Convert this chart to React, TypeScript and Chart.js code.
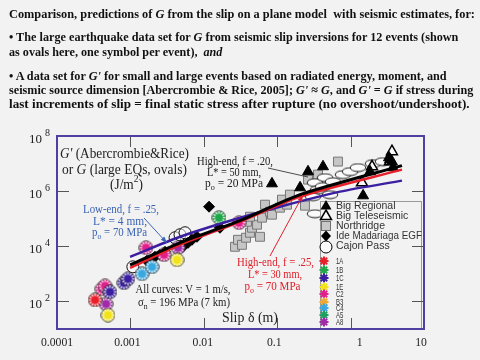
import React, { useEffect, useLayoutEffect, useRef } from 'react';
import { Chart, registerables } from 'chart.js';

Chart.register(...registerables);

type P = [number, number];

// ---------- axis ticks ----------
const xTickValues = [0.0001, 0.001, 0.01, 0.1, 1, 10];
const xTickLabels = ['0.0001', '0.001', '0.01', '0.1', '1', '10'];
const yTickValues = [1e8, 1e6, 1e4, 1e2];
const yTickExponents = ['8', '6', '4', '2'];

// ---------- model curves (slip δ in m, G in J/m2) ----------
const lowEndBlue: P[] = [[9.9e-4, 4150], [4.74e-3, 2.21e4], [0.0228, 8.46e4], [0.109, 2.73e5], [0.718, 9.6e5], [5.01, 2.41e6]];
const highEnd20Black: P[] = [[9.9e-4, 2120], [4.74e-3, 1.34e4], [0.0311, 8.46e4], [0.205, 7.46e5], [5.01, 8.46e6]];
const highEnd25Red: P[] = [[9.9e-4, 1650], [4.74e-3, 1.13e4], [0.0311, 7.78e4], [0.205, 6.31e5], [5.01, 6.05e6]];

// ---------- data sets ----------
const bigRegional: P[] = [[0.0849, 1.87e6], [0.205, 1.34e6], [0.263, 5.12e6], [0.421, 7.78e6], [1.48, 6.86e5], [1.84, 5.12e6], [3.44, 1.4e7], [3.66, 1.18e7], [3.78, 7.16e6], [3.33, 1.65e7]];
const bigTeleseismic: P[] = [[1.43, 2.04e6], [1.96, 7.78e6], [3.66, 2.73e7], [3.44, 1.18e7]];
const northridge: P[] = [[0.0266, 9.6e3], [0.0292, 1.72e4], [0.0331, 1.13e4], [0.0376, 2.04e4], [0.0426, 3.1e4], [0.0454, 4.71e4], [0.0531, 6.05e4], [0.0388, 7.78e4], [0.0426, 1.18e5], [0.0621, 1.09e5], [0.0583, 2.21e4], [0.0682, 3.23e5], [0.0798, 1.8e5], [0.0849, 1.4e5], [0.109, 2.51e5], [0.136, 3.23e5], [0.116, 4.91e5], [0.149, 7.46e5], [0.239, 2.97e5], [0.263, 2.62e6], [0.36, 3.98e6], [0.673, 1.18e7]];
const ideMadariaga: P[] = [[1.68e-3, 2970], [2.16e-3, 4150], [2.53e-3, 4910], [2.96e-3, 6310], [5.21e-3, 9600], [6.1e-3, 1.34e4], [6.9e-3, 1.72e4], [8.07e-3, 2.21e4], [0.0118, 2.73e5], [0.0166, 4.71e4]];
const cajonPass: P[] = [[1.08e-3, 1800], [4.06e-3, 2.04e4], [4.74e-3, 2.62e4], [5.55e-3, 3.1e4]];
const largeEqOvals: P[] = [[0.308, 6.31e5], [0.327, 2.04e6], [0.36, 1.13e6], [0.421, 1.46e6], [0.448, 3.1e6], [0.575, 2.21e6], [0.787, 3.98e6], [0.982, 5.12e6], [1.26, 7.16e6], [2.02, 1.0e7], [2.76, 1.18e7], [0.327, 1.52e5], [0.524, 7.46e5]];

const ev1A: P[] = [[3.3e-4, 113]];
const ev1B: P[] = [[0.0161, 1.09e5]];
const ev1C: P[] = [[5.27e-4, 221], [8.18e-4, 471], [9.27e-4, 658]];
const ev1E: P[] = [[4.95e-4, 32], [4.32e-3, 3230]];
const evC2: P[] = [[4.1e-4, 285], [4.51e-4, 366], [1.63e-3, 8810], [2.87e-3, 4910], [0.0302, 7.16e4]];
const evB3: P[] = [];
const evC4: P[] = [[1.44e-3, 1000], [1.97e-3, 1800]];
const evA5: P[] = [];
const evA8: P[] = [[4.66e-4, 81], [4.46e-3, 8810]];

const eventNames = ['1A', '1B', '1C', '1E', 'C2', 'B3', 'C4', 'A5', 'A8'];
const eventColors = ['#e8202a', '#1fa84a', '#3a1fa0', '#f2e21a', '#e0208c', '#f0a830', '#3aa8e0', '#20a060', '#a02aa8'];
const eventData = [ev1A, ev1B, ev1C, ev1E, evC2, evB3, evC4, evA5, evA8];

const legendNames = ['Big Regional', 'Big Teleseismic', 'Northridge', 'Ide Madariaga EGF', 'Cajon Pass'];

// ---------- heading ----------
const headingLines: { y: number; width: number; parts: [string, boolean][] }[] = [
  { y: 14, width: 466, parts: [['Comparison, predictions of ', false], ['G', true], [' from the slip on a plane model  with seismic estimates, for:', false]] },
  { y: 37, width: 449, parts: [['\u2022 The large earthquake data set for ', false], ['G', true], [' from seismic slip inversions for 12 events (shown', false]] },
  { y: 52, width: 213, parts: [['as ovals here, one symbol per event),  ', false], ['and', true]] },
  { y: 76, width: 438, parts: [['\u2022 A data set for ', false], ["G'", true], [' for small and large events based on radiated energy, moment, and', false]] },
  { y: 90, width: 464, parts: [['seismic source dimension [Abercrombie & Rice, 2005]; ', false], ["G'", true], [' \u2248 ', false], ['G', true], [', and ', false], ["G'", true], [' = ', false], ['G', true], [' if stress during', false]] },
  { y: 104, width: 461, parts: [['last increments of slip = final static stress after rupture (no overshoot/undershoot).', false]] },
];

const BG = '#f2f2f2';
const FRAME = '#4f3fa0';
const SERIF = '"Liberation Serif", "Times New Roman", serif';
const SANS = '"Liberation Sans", Arial, sans-serif';

type Seg = { t: string; it?: boolean; sub?: boolean; sup?: boolean };

function drawRich(ctx: CanvasRenderingContext2D, segs: Seg[], cx: number, cy: number, size: number, color: string, width?: number) {
  const fontFor = (s: Seg) => `${s.it ? 'italic ' : ''}${s.sub || s.sup ? Math.round(size * 0.7) : size}px ${SERIF}`;
  let total = 0;
  const ws = segs.map((s) => {
    ctx.font = fontFor(s);
    const w = ctx.measureText(s.t).width;
    total += w;
    return w;
  });
  const sx = width ? width / total : 1;
  ctx.save();
  ctx.translate(cx - (total * sx) / 2, cy);
  ctx.scale(sx, 1);
  ctx.fillStyle = color;
  ctx.textBaseline = 'middle';
  ctx.textAlign = 'left';
  let x = 0;
  segs.forEach((s, i) => {
    ctx.font = fontFor(s);
    const dy = s.sub ? size * 0.3 : s.sup ? -size * 0.38 : 0;
    ctx.fillText(s.t, x, dy);
    x += ws[i];
  });
  ctx.restore();
}

function arrow(ctx: CanvasRenderingContext2D, x1: number, y1: number, x2: number, y2: number, color: string) {
  ctx.save();
  ctx.strokeStyle = color;
  ctx.fillStyle = color;
  ctx.lineWidth = 1;
  ctx.beginPath();
  ctx.moveTo(x1, y1);
  ctx.lineTo(x2, y2);
  ctx.stroke();
  const a = Math.atan2(y2 - y1, x2 - x1);
  const h = 7;
  ctx.beginPath();
  ctx.moveTo(x2, y2);
  ctx.lineTo(x2 - h * Math.cos(a - 0.35), y2 - h * Math.sin(a - 0.35));
  ctx.lineTo(x2 - h * Math.cos(a + 0.35), y2 - h * Math.sin(a + 0.35));
  ctx.closePath();
  ctx.fill();
  ctx.restore();
}

function makeStarCircle(color: string) {
  const c = document.createElement('canvas');
  c.width = 15;
  c.height = 15;
  const g = c.getContext('2d')!;
  g.beginPath();
  g.arc(7.5, 7.5, 6.6, 0, Math.PI * 2);
  g.fillStyle = color;
  g.fill();
  g.strokeStyle = '#ffffff';
  g.lineWidth = 1.3;
  for (let i = 0; i < 12; i++) {
    const a = (i * Math.PI) / 6;
    g.beginPath();
    g.moveTo(7.5 + Math.cos(a) * 4.0, 7.5 + Math.sin(a) * 4.0);
    g.lineTo(7.5 + Math.cos(a) * 6.4, 7.5 + Math.sin(a) * 6.4);
    g.stroke();
  }
  g.beginPath();
  g.arc(7.5, 7.5, 6.8, 0, Math.PI * 2);
  g.strokeStyle = '#333';
  g.lineWidth = 0.8;
  g.stroke();
  return c;
}

function makeEllipse() {
  const c = document.createElement('canvas');
  c.width = 18;
  c.height = 10;
  const g = c.getContext('2d')!;
  g.beginPath();
  g.ellipse(9, 5, 7.8, 3.9, 0, 0, Math.PI * 2);
  g.fillStyle = '#fbfbfb';
  g.fill();
  g.strokeStyle = '#111';
  g.lineWidth = 0.9;
  g.stroke();
  return c;
}

function drawStar(ctx: CanvasRenderingContext2D, x: number, y: number, r: number, color: string) {
  ctx.save();
  ctx.strokeStyle = color;
  ctx.lineWidth = 2;
  for (let i = 0; i < 4; i++) {
    const a = (i * Math.PI) / 4;
    ctx.beginPath();
    ctx.moveTo(x - Math.cos(a) * r, y - Math.sin(a) * r);
    ctx.lineTo(x + Math.cos(a) * r, y + Math.sin(a) * r);
    ctx.stroke();
  }
  ctx.restore();
}

const decor = {
  id: 'decor',
  afterDatasetsDraw(chart: any) {
    const ctx: CanvasRenderingContext2D = chart.ctx;
    const a = chart.chartArea;
    const xs = chart.scales.x;
    const ys = chart.scales.y;
    ctx.save();

    // ---- annotations ----
    const dark = '#222';
    drawRich(ctx, [{ t: "G'", it: true }, { t: ' (Abercrombie&Rice)' }], 124.5, 154, 14, dark, 129);
    drawRich(ctx, [{ t: 'or ' }, { t: 'G', it: true }, { t: ' (large EQs, ovals)' }], 124.5, 170, 14, dark, 125);
    drawRich(ctx, [{ t: '(J/m' }, { t: '2', sup: true }, { t: ')' }], 126.5, 185, 14, dark, 33);

    drawRich(ctx, [{ t: 'High-end, f = .20,' }], 235, 162, 12.5, dark, 76);
    drawRich(ctx, [{ t: 'L* = 50 mm,' }], 234, 173, 12.5, dark, 54);
    drawRich(ctx, [{ t: 'p' }, { t: 'o', sub: true }, { t: ' = 20 MPa' }], 234, 184, 12.5, dark, 58);
    ctx.strokeStyle = dark;
    ctx.lineWidth = 0.8;
    ctx.beginPath();
    ctx.moveTo(268, 168);
    ctx.lineTo(308, 177);
    ctx.stroke();

    const blueTxt = '#3a64b4';
    drawRich(ctx, [{ t: 'Low-end, f = .25,' }], 121, 210, 12.5, blueTxt, 76);
    drawRich(ctx, [{ t: 'L* = 4 mm,' }], 120, 222, 12.5, blueTxt, 54);
    drawRich(ctx, [{ t: 'p' }, { t: 'o', sub: true }, { t: ' = 70 MPa' }], 119.5, 233, 12.5, blueTxt, 55);
    arrow(ctx, 144, 218, 167, 243, blueTxt);

    const redTxt = '#e0202a';
    drawRich(ctx, [{ t: 'High-end, f = .25,' }], 275.5, 263, 12.5, redTxt, 77);
    drawRich(ctx, [{ t: 'L* = 30 mm,' }], 275, 275, 12.5, redTxt, 54);
    drawRich(ctx, [{ t: 'p' }, { t: 'o', sub: true }, { t: ' = 70 MPa' }], 272.5, 287, 12.5, redTxt, 56);
    arrow(ctx, 270, 256, 303, 195, redTxt);

    drawRich(ctx, [{ t: 'All curves: V = 1 m/s,' }], 183, 290, 12.5, dark, 95);
    drawRich(ctx, [{ t: '\u03c3' }, { t: 'n', sub: true }, { t: ' = 196 MPa (7 km)' }], 184, 303, 12.5, dark, 92);
    drawRich(ctx, [{ t: 'Slip \u03b4 (m)' }], 250, 318, 14, dark, 56);

    // ---- legend ----
    const lx = 320, ly = 201, lr = 422;
    ctx.fillStyle = BG;
    ctx.fillRect(lx, ly, lr - lx, a.bottom - ly);
    ctx.strokeStyle = '#9a9a9a';
    ctx.lineWidth = 1;
    ctx.strokeRect(lx + 0.5, ly + 0.5, lr - lx - 1, a.bottom - ly);

    const mx = 326;
    const rows = [206, 216, 226, 236, 246];
    // Big Regional
    ctx.fillStyle = '#000';
    ctx.beginPath();
    ctx.moveTo(mx, rows[0] - 6); ctx.lineTo(mx + 5.5, rows[0] + 3.5); ctx.lineTo(mx - 5.5, rows[0] + 3.5); ctx.closePath(); ctx.fill();
    // Big Teleseismic
    ctx.fillStyle = '#fafafa'; ctx.strokeStyle = '#000'; ctx.lineWidth = 1.5;
    ctx.beginPath();
    ctx.moveTo(mx, rows[1] - 6); ctx.lineTo(mx + 5.5, rows[1] + 3.5); ctx.lineTo(mx - 5.5, rows[1] + 3.5); ctx.closePath(); ctx.fill(); ctx.stroke();
    // Northridge
    ctx.fillStyle = '#c8c8c8'; ctx.strokeStyle = '#707070'; ctx.lineWidth = 1;
    ctx.fillRect(mx - 4.5, rows[2] - 4.5, 9, 9); ctx.strokeRect(mx - 4.5, rows[2] - 4.5, 9, 9);
    // Ide
    ctx.fillStyle = '#000';
    ctx.beginPath();
    ctx.moveTo(mx, rows[3] - 5.5); ctx.lineTo(mx + 5, rows[3]); ctx.lineTo(mx, rows[3] + 5.5); ctx.lineTo(mx - 5, rows[3]); ctx.closePath(); ctx.fill();
    // Cajon
    ctx.strokeStyle = '#000'; ctx.lineWidth = 1; ctx.fillStyle = '#fafafa';
    ctx.beginPath(); ctx.arc(mx, rows[4] + 1, 6, 0, Math.PI * 2); ctx.fill(); ctx.stroke();

    ctx.fillStyle = '#333';
    ctx.textAlign = 'left';
    ctx.textBaseline = 'middle';
    ctx.font = `10.5px ${SANS}`;
    legendNames.forEach((n, i) => ctx.fillText(n, 336, rows[i], lr - 336));

    const starRows = [261, 270, 278, 287, 294, 302, 308, 315, 322];
    eventNames.forEach((n, i) => {
      drawStar(ctx, 324, starRows[i], 4.5, eventColors[i]);
      ctx.save();
      ctx.translate(336, starRows[i]);
      ctx.scale(0.75, 1.15);
      ctx.fillStyle = '#333';
      ctx.font = `8px ${SANS}`;
      ctx.textBaseline = 'middle';
      ctx.fillText(n, 0, 0);
      ctx.restore();
    });

    // ---- frame & ticks ----
    ctx.strokeStyle = '#555';
    ctx.lineWidth = 1;
    xTickValues.forEach((v) => {
      const px = Math.round(xs.getPixelForValue(v)) + 0.5;
      ctx.beginPath();
      ctx.moveTo(px, a.bottom); ctx.lineTo(px, a.bottom - 11);
      ctx.moveTo(px, a.top); ctx.lineTo(px, a.top + 11);
      ctx.stroke();
    });
    yTickValues.forEach((v) => {
      const py = Math.round(ys.getPixelForValue(v)) + 0.5;
      ctx.beginPath();
      ctx.moveTo(a.left, py); ctx.lineTo(a.left + 12, py);
      ctx.moveTo(a.right, py); ctx.lineTo(a.right - 12, py);
      ctx.stroke();
    });
    ctx.strokeStyle = FRAME;
    ctx.lineWidth = 2;
    ctx.strokeRect(a.left, a.top, a.right - a.left, a.bottom - a.top);

    // ---- tick labels ----
    const xOff = [0, -3, -1, -3, 9, -3];
    ctx.fillStyle = '#222';
    ctx.textBaseline = 'middle';
    xTickValues.forEach((v, i) => {
      const px = xs.getPixelForValue(v) + xOff[i];
      ctx.font = `13px ${SERIF}`;
      const w = ctx.measureText(xTickLabels[i]).width;
      ctx.save();
      ctx.translate(px, 343);
      ctx.scale(0.9, 1);
      ctx.textAlign = 'center';
      ctx.fillText(xTickLabels[i], 0, 0);
      ctx.restore();
      void w;
    });
    yTickValues.forEach((v, i) => {
      const py = ys.getPixelForValue(v);
      ctx.font = `13px ${SERIF}`;
      ctx.textAlign = 'right';
      ctx.fillText('10', a.left - 15, py + 3.5);
      ctx.font = `10px ${SERIF}`;
      ctx.textAlign = 'left';
      ctx.fillText(yTickExponents[i], a.left - 12, py - 3);
    });

    ctx.restore();
  },
};

const toXY = (arr: P[]) => arr.map(([x, y]) => ({ x, y }));

export default function App() {
  const canvasRef = useRef<HTMLCanvasElement>(null);
  const lineRefs = useRef<(HTMLDivElement | null)[]>([]);

  useLayoutEffect(() => {
    const fit = () => {
      lineRefs.current.forEach((el, i) => {
        if (!el) return;
        el.style.transform = 'none';
        const w = el.offsetWidth;
        if (w > 0) el.style.transform = `scaleX(${headingLines[i].width / w})`;
      });
    };
    fit();
    if ((document as any).fonts && (document as any).fonts.ready) (document as any).fonts.ready.then(fit);
  }, []);

  useEffect(() => {
    const canvas = canvasRef.current;
    if (!canvas) return;
    const ellipse = makeEllipse();
    const curve = (label: string, d: P[], color: string, width: number) => ({
      label, data: toXY(d), showLine: true, borderColor: color, backgroundColor: color,
      borderWidth: width, pointRadius: 0, tension: 0.25,
    });
    const datasets: any[] = [
      curve('High-end, f = .20', highEnd20Black, '#000000', 3),
      curve('High-end, f = .25', highEnd25Red, '#e8202a', 2.5),
      curve('Low-end, f = .25', lowEndBlue, '#3b1fa0', 2.5),
      ...eventNames.map((n, i) => ({
        label: n, data: toXY(eventData[i]), pointStyle: makeStarCircle(eventColors[i]), pointRadius: 6,
      })),
      { label: 'Ide Madariaga EGF', data: toXY(ideMadariaga), pointStyle: 'rectRot', pointRadius: 5.5, backgroundColor: '#000', borderColor: '#000', borderWidth: 1 },
      { label: 'Big Regional', data: toXY(bigRegional), pointStyle: 'triangle', pointRadius: 6.3, backgroundColor: '#000', borderColor: '#000', borderWidth: 1 },
      { label: 'Big Teleseismic', data: toXY(bigTeleseismic), pointStyle: 'triangle', pointRadius: 6.3, backgroundColor: '#fafafa', borderColor: '#000', borderWidth: 1.5 },
      { label: 'Large EQ ovals', data: toXY(largeEqOvals), pointStyle: ellipse, pointRadius: 6 },
      { label: 'Cajon Pass', data: toXY(cajonPass), pointStyle: 'circle', pointRadius: 6, backgroundColor: 'rgba(250,250,250,0.5)', borderColor: '#111', borderWidth: 1 },
      { label: 'Northridge', data: toXY(northridge), pointStyle: 'rect', pointRadius: 6.3, backgroundColor: '#c6c6c6', borderColor: '#777', borderWidth: 1 },
    ];
    const chart = new Chart(canvas, {
      type: 'scatter',
      data: { datasets },
      options: {
        animation: false,
        responsive: false,
        devicePixelRatio: 1,
        events: [],
        layout: { padding: { left: 57, top: 136, right: 56, bottom: 31 } },
        scales: {
          x: { type: 'logarithmic', min: 1e-4, max: 10, display: false },
          y: { type: 'logarithmic', min: 10, max: 1e8, display: false },
        },
        plugins: { legend: { display: false }, tooltip: { enabled: false }, title: { display: false } },
      } as any,
      plugins: [decor],
    });
    return () => chart.destroy();
  }, []);

  return (
    <div style={{ position: 'fixed', left: 0, top: 0, width: 480, height: 360, background: BG, overflow: 'hidden' }}>
      <canvas ref={canvasRef} width={480} height={360} style={{ position: 'absolute', left: 0, top: 0, width: 480, height: 360 }} />
      {headingLines.map((ln, i) => (
        <div
          key={i}
          ref={(el) => { lineRefs.current[i] = el; }}
          style={{
            position: 'absolute', left: 9, top: ln.y - 8, whiteSpace: 'pre', fontFamily: SERIF, fontWeight: 'bold',
            fontSize: 13, lineHeight: '16px', color: '#111', transformOrigin: '0 0',
          }}
        >
          {ln.parts.map(([t, it], j) => (it ? <i key={j}>{t}</i> : <span key={j}>{t}</span>))}
        </div>
      ))}
    </div>
  );
}
